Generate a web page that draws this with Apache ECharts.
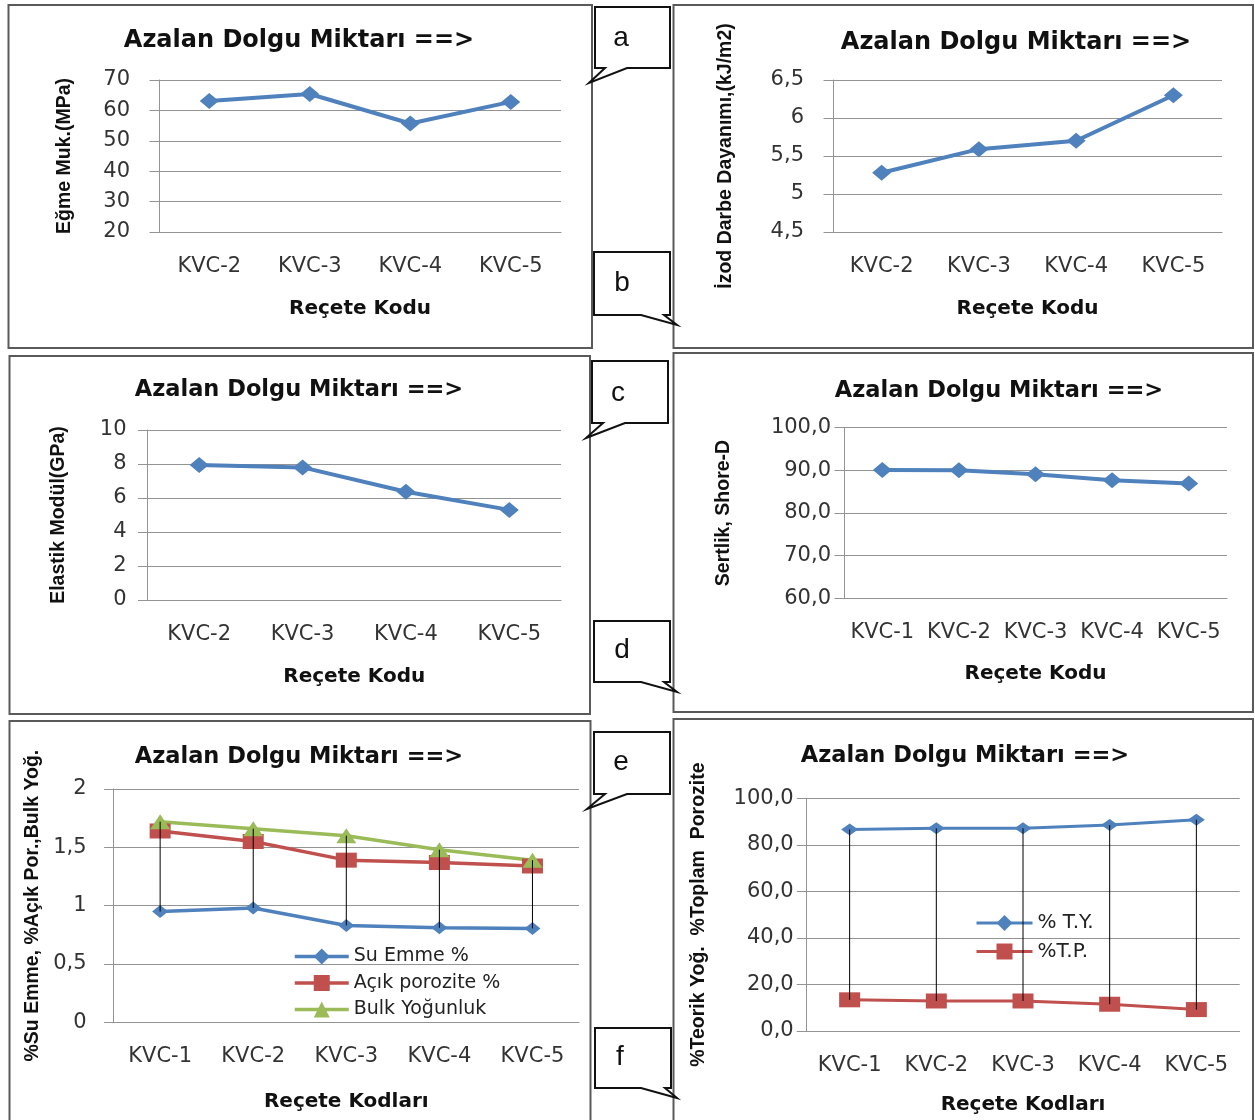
<!DOCTYPE html>
<html>
<head>
<meta charset="utf-8">
<script src="https://cdn.jsdelivr.net/npm/echarts@6/dist/echarts.min.js"></script>
<style>
  html, body { margin: 0; padding: 0; background: #fff; }
  #chart { width: 1255px; height: 1120px; }
</style>
</head>
<body>
<div id="chart"></div>
<script>
// ---- data ----
const codes4 = ['KVC-2', 'KVC-3', 'KVC-4', 'KVC-5'];
const codes5 = ['KVC-1', 'KVC-2', 'KVC-3', 'KVC-4', 'KVC-5'];

const egmeMuk = [63.1, 65.4, 55.7, 62.8];            // MPa
const izodDarbe = [5.28, 5.59, 5.70, 6.30];          // kJ/m2
const elastikModul = [7.94, 7.80, 6.37, 5.30];       // GPa
const sertlik = [90.1, 90.0, 89.1, 87.7, 86.9];      // Shore-D

const suEmme = [0.95, 0.98, 0.83, 0.81, 0.805];
const acikPorozite = [1.64, 1.55, 1.39, 1.37, 1.34];
const bulkYogunluk = [1.72, 1.66, 1.60, 1.48, 1.39];

const teorikYog = [86.6, 87.1, 87.1, 88.5, 90.8];
const toplamPorozite = [13.4, 12.9, 12.9, 11.5, 9.2];

const headline = 'Azalan Dolgu Miktarı ==>';
const panelLetters = ['a', 'b', 'c', 'd', 'e', 'f'];

// ---- styling ----
const BLUE = '#4F81BD', RED = '#C0504D', GREEN = '#9BBB59';
const GRID_GRAY = '#939393';
const TICK_FONT = 'DejaVu Sans';
const BOLD_FONT = 'DejaVu Sans';
const NAME_FONT = 'Liberation Sans';

const commaFmt = (digits) => (v) => (digits == null ? String(v) : v.toFixed(digits)).replace('.', ',');

// layout of each panel: plot rectangle, axis ranges, names and title placement
const panels = [
  { grid: { left: 159, top: 80, width: 402, height: 152 }, cats: codes4,
    y: { min: 20, max: 70, interval: 10, fmt: commaFmt() }, yName: 'Eğme Muk.(MPa)', yGap: 84, yMargin: 29,
    xName: 'Reçete Kodu', xGap: 67, title: { x: 299, y: 41, size: 24 } },
  { grid: { left: 833, top: 80, width: 389, height: 152 }, cats: codes4,
    y: { min: 4.5, max: 6.5, interval: 0.5, fmt: commaFmt() }, yName: 'İzod Darbe Dayanımı,(kJ/m2)', yGap: 97, yMargin: 29,
    xName: 'Reçete Kodu', xGap: 67, title: { x: 1016, y: 43, size: 24 } },
  { grid: { left: 147.5, top: 430, width: 413.5, height: 170 }, cats: codes4,
    y: { min: 0, max: 10, interval: 2, fmt: commaFmt() }, yName: 'Elastik Modül(GPa)', yGap: 79, yMargin: 21,
    xName: 'Reçete Kodu', xGap: 67, title: { x: 299, y: 390, size: 22.5 } },
  { grid: { left: 844, top: 427.7, width: 383, height: 170.6 }, cats: codes5,
    y: { min: 60, max: 100, interval: 10, fmt: commaFmt(1) }, yName: 'Sertlik, Shore-D', yGap: 110, yMargin: 13,
    xName: 'Reçete Kodu', xGap: 65, title: { x: 999, y: 391, size: 22.5 } },
  { grid: { left: 113.6, top: 789, width: 465.4, height: 233.3 }, cats: codes5,
    y: { min: 0, max: 2, interval: 0.5, fmt: commaFmt() }, yName: '%Su Emme, %Açık Por.,Bulk Yoğ.', yGap: 71, yMargin: 27,
    xName: 'Reçete Kodları', xGap: 69, title: { x: 299, y: 757, size: 22.5 } },
  { grid: { left: 806.3, top: 798.3, width: 433.4, height: 232.7 }, cats: codes5,
    y: { min: 0, max: 100, interval: 20, fmt: commaFmt(1) }, yName: '%Teorik Yoğ.  %Toplam  Porozite', yGap: 98, yMargin: 12.6,
    xName: 'Reçete Kodları', xGap: 64, title: { x: 965, y: 756, size: 22.5 } }
];

// panel frames and callout boxes
const frames = [
  [8.5, 5, 592, 348], [673.5, 5, 1253, 348],
  [9.5, 356, 590, 714], [673.5, 353, 1253, 712],
  [9.5, 721, 590.5, 1130], [673.5, 719, 1253, 1130]
];
const callouts = [
  { pts: [[595, 7], [670, 7], [670, 68], [627, 68], [589, 83], [605, 68], [595, 68]], text: [621, 38] },
  { pts: [[594, 252], [670, 252], [670, 315], [664, 315], [677, 325], [641, 315], [594, 315]], text: [622, 283] },
  { pts: [[592, 361], [668, 361], [668, 423], [625, 423], [586, 438], [603, 423], [592, 423]], text: [618, 393] },
  { pts: [[594, 621], [670, 621], [670, 682], [664, 682], [677, 692], [641, 682], [594, 682]], text: [622, 650] },
  { pts: [[594, 732], [670, 732], [670, 794], [627, 794], [587, 809], [605, 794], [594, 794]], text: [621, 762] },
  { pts: [[595, 1028], [671, 1028], [671, 1088], [665, 1088], [677, 1098], [641, 1088], [595, 1088]], text: [620, 1057] }
];

const grids = [], xAxes = [], yAxes = [], titles = [], series = [];

panels.forEach((p, i) => {
  grids.push(Object.assign({ containLabel: false }, p.grid));
  xAxes.push({
    type: 'category', gridIndex: i, data: p.cats, boundaryGap: true,
    axisLine: { show: true, onZero: false, lineStyle: { color: GRID_GRAY, width: 1 } },
    axisTick: { show: false },
    axisLabel: { interval: 0, margin: 24, color: '#333', fontFamily: TICK_FONT, fontSize: 21 },
    name: p.xName, nameLocation: 'middle', nameGap: p.xGap,
    nameTextStyle: { fontFamily: BOLD_FONT, fontWeight: 'bold', fontSize: 20, color: '#111' }
  });
  yAxes.push({
    type: 'value', gridIndex: i, min: p.y.min, max: p.y.max, interval: p.y.interval,
    axisLine: { show: true, lineStyle: { color: GRID_GRAY, width: 1 } },
    axisTick: { show: true, length: 9.5, lineStyle: { color: GRID_GRAY } },
    splitLine: { show: true, lineStyle: { color: GRID_GRAY, width: 1 } },
    axisLabel: { margin: p.yMargin, color: '#333', fontFamily: TICK_FONT, fontSize: 21, formatter: p.y.fmt },
    name: p.yName, nameLocation: 'middle', nameRotate: 90, nameGap: p.yGap,
    nameTextStyle: { fontFamily: NAME_FONT, fontWeight: 'bold', fontSize: 19.5, color: '#111' }
  });
  titles.push({
    text: headline, left: p.title.x, top: p.title.y - p.title.size / 2, textAlign: 'center', padding: 0,
    textStyle: { fontFamily: BOLD_FONT, fontWeight: 'bold', fontSize: p.title.size, color: '#111' }
  });
});

function lineSeries(name, idx, data, color, symbol, size, width) {
  return {
    name, type: 'line', xAxisIndex: idx, yAxisIndex: idx, data,
    symbol, symbolSize: size, showSymbol: true, z: 3,
    lineStyle: { color, width }, itemStyle: { color }
  };
}

// vertical high-low connectors between the series of one panel
function hiLoSeries(idx, groups) {
  const data = groups[0].map((_, k) => {
    const vals = groups.map(g => g[k]);
    return [k, Math.min(...vals), Math.max(...vals)];
  });
  return {
    type: 'custom', xAxisIndex: idx, yAxisIndex: idx, data, z: 6, silent: true,
    encode: { x: 0, y: [1, 2] },
    renderItem(params, api) {
      const a = api.coord([api.value(0), api.value(1)]);
      const b = api.coord([api.value(0), api.value(2)]);
      return { type: 'line', shape: { x1: a[0], y1: a[1], x2: b[0], y2: b[1] }, style: { stroke: '#000', lineWidth: 1 } };
    }
  };
}

series.push(lineSeries('Eğme Mukavemeti', 0, egmeMuk, BLUE, 'diamond', [19, 16], 4));
series.push(lineSeries('İzod Darbe Dayanımı', 1, izodDarbe, BLUE, 'diamond', [19, 16], 4));
series.push(lineSeries('Elastik Modül', 2, elastikModul, BLUE, 'diamond', [19, 16], 4));
series.push(lineSeries('Sertlik', 3, sertlik, BLUE, 'diamond', [19, 16], 4));

series.push(lineSeries('Su Emme %', 4, suEmme, BLUE, 'diamond', [16, 13], 3.5));
series.push(lineSeries('Açık porozite %', 4, acikPorozite, RED, 'rect', [21, 15], 3.5));
series.push(lineSeries('Bulk Yoğunluk', 4, bulkYogunluk, GREEN, 'triangle', [20, 15], 3.5));
series.push(hiLoSeries(4, [suEmme, acikPorozite, bulkYogunluk]));

series.push(lineSeries('% T.Y.', 5, teorikYog, BLUE, 'diamond', [17, 12], 3));
series.push(lineSeries('%T.P.', 5, toplamPorozite, RED, 'rect', [21, 15], 3));
series.push(hiLoSeries(5, [teorikYog, toplamPorozite]));

const legendText = { fontFamily: TICK_FONT, fontSize: 19, color: '#222' };
const legends = [
  { data: ['Su Emme %', 'Açık porozite %', 'Bulk Yoğunluk'], orient: 'vertical', left: 293, top: 947,
    itemWidth: 54, itemHeight: 20, itemGap: 7.5, padding: 0, textStyle: legendText, selectedMode: false,
    lineStyle: { width: 3.5 } },
  { data: ['% T.Y.', '%T.P.'], orient: 'vertical', left: 975, top: 913,
    itemWidth: 56, itemHeight: 20, itemGap: 8.5, padding: 0, textStyle: Object.assign({}, legendText, { fontSize: 20 }),
    selectedMode: false, lineStyle: { width: 3 } }
];

const graphics = [];
frames.forEach(f => {
  graphics.push({
    type: 'rect', silent: true, z: 0,
    shape: { x: f[0], y: f[1], width: f[2] - f[0], height: f[3] - f[1] },
    style: { fill: 'none', stroke: '#5a5a5a', lineWidth: 2 }
  });
});
callouts.forEach((c, i) => {
  graphics.push({
    type: 'polygon', silent: true, z: 10,
    shape: { points: c.pts },
    style: { fill: '#fff', stroke: '#111', lineWidth: 2 }
  });
  graphics.push({
    type: 'text', silent: true, z: 11, x: c.text[0], y: c.text[1],
    style: { text: panelLetters[i], fontFamily: 'Liberation Sans', fontSize: 28, fill: '#111', align: 'center', verticalAlign: 'middle' }
  });
});

const chart = echarts.init(document.getElementById('chart'), null, { renderer: 'canvas' });
chart.setOption({
  animation: false,
  backgroundColor: '#fff',
  title: titles,
  grid: grids,
  xAxis: xAxes,
  yAxis: yAxes,
  legend: legends,
  series,
  graphic: { elements: graphics }
});
</script>
</body>
</html>
